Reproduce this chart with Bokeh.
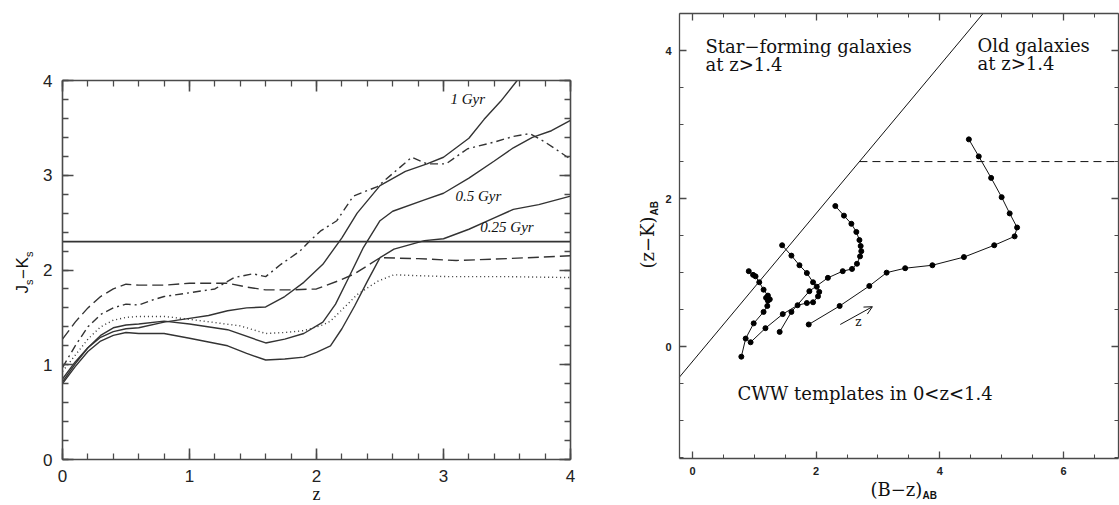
import math
from bokeh.plotting import figure
from bokeh.models import (Label, Arrow, OpenHead, LinearAxis, SingleIntervalTicker, Range1d)
from bokeh.embed import file_html
from bokeh.resources import INLINE

# ---------------- Left panel data: Js-Ks vs z ----------------
z_1gyr = [0, 0.1, 0.2, 0.3, 0.4, 0.5, 0.6, 0.8, 1.0, 1.15, 1.3, 1.45, 1.6, 1.75, 1.9, 2.05,
          2.2, 2.32, 2.5, 2.7, 2.87, 3.0, 3.2, 3.32, 3.45, 3.58]
jk_1gyr = [0.85, 1.03, 1.18, 1.29, 1.35, 1.38, 1.39, 1.45, 1.49, 1.52, 1.57, 1.60, 1.61, 1.72,
           1.87, 2.06, 2.34, 2.60, 2.89, 3.04, 3.12, 3.19, 3.39, 3.59, 3.78, 4.0]

z_05gyr = [0, 0.1, 0.2, 0.3, 0.4, 0.5, 0.6, 0.8, 1.0, 1.3, 1.6, 1.75, 1.9, 2.05, 2.15, 2.25,
           2.37, 2.5, 2.6, 2.85, 3.0, 3.2, 3.4, 3.55, 3.7, 3.85, 4.0]
jk_05gyr = [0.82, 1.01, 1.18, 1.31, 1.39, 1.42, 1.43, 1.46, 1.43, 1.37, 1.23, 1.27, 1.33, 1.45,
            1.64, 1.91, 2.24, 2.52, 2.62, 2.74, 2.81, 2.97, 3.15, 3.29, 3.40, 3.47, 3.58]

z_025gyr = [0, 0.1, 0.2, 0.3, 0.4, 0.5, 0.6, 0.8, 1.0, 1.3, 1.45, 1.6, 1.75, 1.9, 2.0, 2.11,
            2.2, 2.3, 2.4, 2.5, 2.61, 2.85, 3.0, 3.2, 3.4, 3.55, 3.75, 4.0]
jk_025gyr = [0.80, 0.98, 1.14, 1.25, 1.31, 1.34, 1.33, 1.33, 1.28, 1.20, 1.12, 1.05, 1.06, 1.08,
             1.13, 1.20, 1.38, 1.62, 1.88, 2.13, 2.22, 2.31, 2.33, 2.43, 2.55, 2.64, 2.69, 2.78]

z_dotted = [0, 0.1, 0.2, 0.3, 0.4, 0.5, 0.6, 0.8, 1.0, 1.2, 1.4, 1.6, 1.75, 1.9, 2.05, 2.11,
            2.2, 2.32, 2.48, 2.61, 2.8, 3.03, 3.5, 4.0]
jk_dotted = [0.93, 1.10, 1.27, 1.40, 1.47, 1.50, 1.51, 1.51, 1.48, 1.445, 1.41, 1.33, 1.34, 1.36,
             1.42, 1.46, 1.58, 1.74, 1.88, 1.95, 1.94, 1.93, 1.93, 1.92]

z_dashed = [0, 0.1, 0.2, 0.3, 0.4, 0.5, 0.6, 0.8, 1.0, 1.3, 1.45, 1.6, 1.8, 2.0, 2.2, 2.3,
            2.5, 2.8, 3.1, 3.5, 4.0]
jk_dashed = [1.27, 1.45, 1.60, 1.72, 1.80, 1.85, 1.84, 1.84, 1.86, 1.86, 1.82, 1.79, 1.79, 1.80,
             1.90, 1.96, 2.13, 2.12, 2.10, 2.12, 2.15]

z_dashdot = [0, 0.1, 0.2, 0.3, 0.4, 0.5, 0.6, 0.7, 0.8, 1.0, 1.2, 1.35, 1.5, 1.6, 1.72, 1.87,
             1.95, 2.03, 2.16, 2.29, 2.48, 2.75, 2.87, 3.02, 3.19, 3.4, 3.55, 3.68, 3.8, 4.0]
jk_dashdot = [0.97, 1.20, 1.40, 1.53, 1.60, 1.64, 1.63, 1.68, 1.72, 1.76, 1.80, 1.92, 1.96, 1.93,
              2.06, 2.20, 2.31, 2.41, 2.52, 2.78, 2.88, 3.19, 3.12, 3.12, 3.28, 3.35, 3.41, 3.44,
              3.35, 3.17]

jk_threshold = 2.3
age_labels = ["1 Gyr", "0.5 Gyr", "0.25 Gyr"]
age_label_z = [3.055, 3.094, 3.29]
age_label_jk = [3.80, 2.78, 2.45]

# ---------------- Right panel data: (z-K) vs (B-z) CWW tracks ----------------
bz_e = [1.88, 2.38, 2.86, 3.14, 3.44, 3.88, 4.39, 4.88, 5.21, 5.25, 5.13, 5.00, 4.83, 4.63, 4.47]
zk_e = [0.30, 0.55, 0.82, 1.00, 1.06, 1.10, 1.21, 1.37, 1.49, 1.61, 1.80, 2.02, 2.28, 2.57, 2.80]

bz_sbc = [1.41, 1.60, 1.89, 2.19, 2.43, 2.58, 2.66, 2.71, 2.73, 2.72, 2.70, 2.65, 2.57, 2.45, 2.31]
zk_sbc = [0.20, 0.47, 0.75, 0.93, 1.02, 1.05, 1.12, 1.22, 1.29, 1.36, 1.44, 1.55, 1.66, 1.77, 1.90]

bz_scd = [0.94, 1.18, 1.46, 1.70, 1.85, 1.95, 2.03, 2.05, 2.01, 1.95, 1.85, 1.73, 1.60, 1.45]
zk_scd = [0.06, 0.25, 0.44, 0.56, 0.59, 0.60, 0.68, 0.74, 0.81, 0.87, 0.995, 1.10, 1.23, 1.37]

bz_irr = [0.79, 0.86, 0.99, 1.15, 1.21, 1.22, 1.25, 1.19, 1.22, 1.15, 1.08, 1.02, 0.98, 0.91]
zk_irr = [-0.135, 0.11, 0.315, 0.47, 0.55, 0.62, 0.64, 0.66, 0.69, 0.77, 0.87, 0.95, 0.97, 1.02]

bzk_slope = 1.0
bzk_intercept = -0.2
old_zk_cut = 2.5
arrow_start = (2.39, 0.30)
arrow_end = (2.91, 0.54)

LEFT_X = (0.0, 4.0)
LEFT_Y = (0.0, 4.0)
RIGHT_X = (-0.21, 6.89)
RIGHT_Y = (-1.51, 4.5)

INK = "#333333"
FRAME = "#4a4a4a"

# ---------------- geometry (page px) ----------------
H = 505
W1, W2 = 632, 487
BOX1 = dict(l=62, r=570, t=80, b=459)            # left panel box, page coords
BOX2 = dict(l=679, r=1118, t=13, b=458)          # right panel box, page coords
MID = 0.35                                        # baseline -> em-box middle, in em


def make_mapper(box, xr, yr, x0, width):
    """Return page-px -> data mapper for a figure whose canvas starts at page x0."""
    sx = (xr[1] - xr[0]) / (box["r"] - box["l"])
    sy = (yr[1] - yr[0]) / (box["b"] - box["t"])

    def f(px, py):
        return xr[0] + (px - box["l"]) * sx, yr[0] + (box["b"] - py) * sy
    x_rng = (f(x0, 0)[0], f(x0 + width, 0)[0])
    y_rng = (f(0, H)[1], f(0, 0)[1])
    return f, x_rng, y_rng


def add_axes(p, xr, yr, major, nminor, major_in, minor_in, font, size, style, standoff, width, color):
    fixed = {"below": yr[0], "left": xr[0], "above": yr[1], "right": xr[1]}
    for loc in ("below", "left", "above", "right"):
        ax = LinearAxis(ticker=SingleIntervalTicker(interval=major, num_minor_ticks=nminor))
        ax.major_tick_in = major_in
        ax.major_tick_out = 0
        ax.minor_tick_in = minor_in
        ax.minor_tick_out = 0
        ax.axis_line_color = color
        ax.axis_line_width = width
        ax.major_tick_line_color = color
        ax.major_tick_line_width = width
        ax.minor_tick_line_color = color
        ax.minor_tick_line_width = width * 0.8
        ax.bounds = xr if loc in ("below", "above") else yr
        ax.fixed_location = fixed[loc]
        if loc in ("below", "left"):
            ax.major_label_text_font = font
            ax.major_label_text_font_size = size
            ax.major_label_text_font_style = style
            ax.major_label_text_color = "#222222"
            ax.major_label_standoff = standoff
        else:
            ax.major_label_text_font_size = "1px"
            ax.major_label_text_color = None
            ax.major_label_standoff = 0
        p.add_layout(ax, loc)


def text_at(p, mapper, px, py, text, font, fs, style="normal", align="left", rotated=False):
    """px, py: page position of the text baseline start (or center for align='center')."""
    if rotated:
        x, y = mapper(px - MID * fs, py)
        ang = math.pi / 2
    else:
        x, y = mapper(px, py - MID * fs)
        ang = 0.0
    p.add_layout(Label(x=x, y=y, text=text, text_font=font, text_font_size=f"{fs}px",
                       text_font_style=style, text_color="#111111", text_align=align,
                       text_baseline="middle", angle=ang))


def new_fig(width, xr, yr):
    p = figure(width=width, height=H, x_range=Range1d(*xr), y_range=Range1d(*yr),
               x_axis_type=None, y_axis_type=None, output_backend="svg", toolbar_location=None,
               min_border_left=0, min_border_right=0, min_border_top=0, min_border_bottom=0)
    p.outline_line_color = None
    p.background_fill_color = "white"
    p.border_fill_color = "white"
    return p


# ---------------- Left figure ----------------
m1, x1r, y1r = make_mapper(BOX1, LEFT_X, LEFT_Y, 0, W1)
p1 = new_fig(W1, x1r, y1r)
add_axes(p1, LEFT_X, LEFT_Y, 1, 5, 11, 6, "Liberation Sans", "17px", "normal", 10, 1.6, FRAME)

lw = 1.4
p1.line(z_1gyr, jk_1gyr, line_color=INK, line_width=lw)
p1.line(z_05gyr, jk_05gyr, line_color=INK, line_width=lw)
p1.line(z_025gyr, jk_025gyr, line_color=INK, line_width=lw)
p1.line(z_dotted, jk_dotted, line_color=INK, line_width=lw, line_dash="1 3")
p1.line(z_dashed, jk_dashed, line_color=INK, line_width=lw, line_dash="11 5")
p1.line(z_dashdot, jk_dashdot, line_color=INK, line_width=lw, line_dash="8 4 2 4")
p1.line(list(LEFT_X), [jk_threshold, jk_threshold], line_color=INK, line_width=1.6)

for t, zx, jy in zip(age_labels, age_label_z, age_label_jk):
    p1.add_layout(Label(x=zx, y=jy, text=t, text_font="Liberation Serif", text_font_size="15px",
                        text_font_style="italic", text_color="#111111", text_baseline="middle"))

# x axis title "z"
text_at(p1, m1, 316, 500, "z", "Liberation Serif", 18, align="center")
# y axis title "Js-Ks", rotated, composed of pieces
py = 293.0
pieces = [("J", 17, 8.5, False), ("s", 11, 6.0, True), ("\u2212", 17, 10.5, False),
          ("K", 17, 11.5, False), ("s", 11, 6.0, True)]
for txt, fs, adv, sub in pieces:
    text_at(p1, m1, 32 if sub else 28, py, txt, "Liberation Sans", fs, rotated=True)
    py -= adv

# ---------------- Right figure ----------------
m2, x2r, y2r = make_mapper(BOX2, RIGHT_X, RIGHT_Y, W1, W2)
p2 = new_fig(W2, x2r, y2r)
add_axes(p2, RIGHT_X, RIGHT_Y, 2, 4, 7, 4, "Liberation Sans", "11px", "bold", 8, 1.3, FRAME)

# separation line (z-K) = (B-z) - 0.2, drawn across the panel box
sep_x = [RIGHT_X[0], (RIGHT_Y[1] - bzk_intercept) / bzk_slope]
sep_y = [bzk_slope * v + bzk_intercept for v in sep_x]
p2.line(sep_x, sep_y, line_color="#111111", line_width=1)
cut_x0 = (old_zk_cut - bzk_intercept) / bzk_slope
p2.line([cut_x0, RIGHT_X[1]], [old_zk_cut, old_zk_cut], line_color="#111111", line_width=1,
        line_dash="8 5")

for bx, zy in ((bz_e, zk_e), (bz_sbc, zk_sbc), (bz_scd, zk_scd), (bz_irr, zk_irr)):
    p2.line(bx, zy, line_color="#111111", line_width=1)
    p2.scatter(bx, zy, size=5, fill_color="black", line_color="black")

p2.add_layout(Arrow(end=OpenHead(size=8, line_width=1, line_color="#111111"),
                    x_start=arrow_start[0], y_start=arrow_start[1],
                    x_end=arrow_end[0], y_end=arrow_end[1],
                    line_width=1, line_color="#111111"))
zx, zy = m2(858, 321)
p2.add_layout(Label(x=zx, y=zy, text="z", text_font="DejaVu Serif", text_font_size="12px",
                    text_color="#111111", text_align="center", text_baseline="middle"))

text_at(p2, m2, 705, 52, "Star\u2212forming galaxies", "DejaVu Serif", 18)
text_at(p2, m2, 705, 70, "at z>1.4", "DejaVu Serif", 18)
text_at(p2, m2, 977, 51, "Old galaxies", "DejaVu Serif", 18)
text_at(p2, m2, 977, 69, "at z>1.4", "DejaVu Serif", 18)
text_at(p2, m2, 737, 399, "CWW templates in 0<z<1.4", "DejaVu Serif", 18)

# axis titles of right panel
text_at(p2, m2, 870, 495, "(B\u2212z)", "DejaVu Serif", 18)
text_at(p2, m2, 922, 498, "AB", "Liberation Sans", 10, style="bold")
text_at(p2, m2, 653, 268, "(z\u2212K)", "DejaVu Serif", 18, rotated=True)
text_at(p2, m2, 657, 215, "AB", "Liberation Sans", 10, style="bold", rotated=True)

html = file_html([p1, p2], INLINE)
html = html.replace("</head>",
                    "<style>body{display:flex !important;flex-direction:row;align-items:flex-start;"
                    "margin:0;padding:0;}</style></head>", 1)
open("out.html", "w").write(html)
